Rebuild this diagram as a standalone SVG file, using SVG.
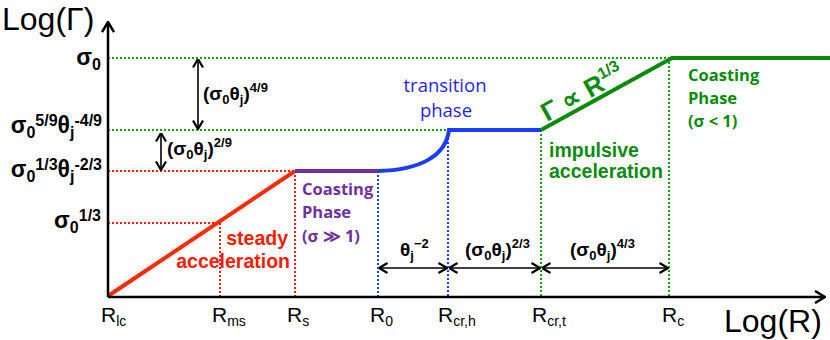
<svg xmlns="http://www.w3.org/2000/svg" width="830" height="340" viewBox="0 0 830 340">
<style>
.ax{stroke:#000;stroke-width:2.5;fill:none}
.dot{stroke-width:2;stroke-dasharray:2 2;fill:none}
.cur{stroke-width:4;fill:none}
.arr{stroke:#000;stroke-width:1.6;fill:none;marker-start:url(#chev);marker-end:url(#chev)}
.big{font-family:"Liberation Sans",Arial,sans-serif;font-size:32px;fill:#000}
.lbl{font-family:"Liberation Sans",Arial,sans-serif;font-weight:bold;font-size:23px;fill:#000}
.sm{font-size:16px}
.al{font-family:"Liberation Sans",Arial,sans-serif;font-weight:bold;font-size:19px;fill:#000}
.als{font-size:13px}
.rl{font-family:"Liberation Sans",Arial,sans-serif;font-size:21px;fill:#000}
.rs{font-size:14px}
.ph{font-family:"Liberation Sans",Arial,sans-serif;font-weight:bold;font-size:19.5px}
.cal{font-family:"Open Sans","Noto Sans",sans-serif;font-weight:bold;font-size:16.5px}
</style>
<defs>
<marker id="chev" viewBox="0 0 10 12" refX="9.5" refY="6" markerWidth="10" markerHeight="12" markerUnits="userSpaceOnUse" orient="auto-start-reverse">
<path d="M1,1 L9.5,6 L1,11" stroke="#000" stroke-width="2.2" fill="none"/>
</marker>
<marker id="ahead" viewBox="0 0 12 14" refX="11" refY="7" markerWidth="12" markerHeight="14" markerUnits="userSpaceOnUse" orient="auto">
<path d="M1,1 L11,7 L1,13" stroke="#000" stroke-width="2.5" fill="none"/>
</marker>
</defs>

<g id="connectors">
<line class="dot" stroke="#11a011" x1="108" y1="58" x2="670" y2="58"/>
<line class="dot" stroke="#11a011" x1="108" y1="130" x2="448" y2="130"/>
<line class="dot" stroke="#ff1a00" x1="108" y1="171" x2="295" y2="171"/>
<line class="dot" stroke="#ff1a00" x1="108" y1="223" x2="220" y2="223"/>
<line class="dot" stroke="#ff1a00" x1="220" y1="223" x2="220" y2="296"/>
<line class="dot" stroke="#ff1a00" x1="295" y1="171" x2="295" y2="296"/>
<line class="dot" stroke="#1a3cff" x1="378" y1="171" x2="378" y2="296"/>
<line class="dot" stroke="#1a3cff" x1="448" y1="130" x2="448" y2="296"/>
<line class="dot" stroke="#11a011" x1="541" y1="130" x2="541" y2="296"/>
<line class="dot" stroke="#11a011" x1="669" y1="58" x2="669" y2="296"/>
<line class="cur" stroke="#ff2a00" x1="108" y1="296" x2="295" y2="171"/>
<line class="cur" stroke="#7030a0" x1="295" y1="171" x2="378" y2="171"/>
<path class="cur" stroke="#1a3cff" d="M378,171 C420,170 446,156 449,130 L541,130"/>
<path class="cur" stroke="#0a8c0a" d="M541,130 L672,58 L830,58"/>
<line class="arr" x1="198" y1="59" x2="198" y2="129"/>
<line class="arr" x1="161" y1="133" x2="161" y2="170"/>
<line class="arr" x1="379" y1="268" x2="447" y2="268"/>
<line class="arr" x1="449" y1="268" x2="540" y2="268"/>
<line class="arr" x1="542" y1="268" x2="668" y2="268"/>
<line class="ax" x1="108" y1="297" x2="108" y2="22" marker-end="url(#ahead)"/>
<line class="ax" x1="108" y1="297" x2="825" y2="297" marker-end="url(#ahead)"/>
</g>

<g id="axis-labels">
<text class="big" x="2" y="30">Log(Γ)</text>
<text class="big" x="724" y="332">Log(R)</text>
</g>

<g id="y-labels">
<text class="lbl" x="101" y="65" text-anchor="end">σ<tspan class="sm" dy="5">0</tspan></text>
<text class="lbl" x="102" y="133" text-anchor="end">σ<tspan class="sm" dy="5">0</tspan><tspan class="sm" dy="-12">5/9</tspan><tspan dy="7">θ</tspan><tspan class="sm" dy="5">j</tspan><tspan class="sm" dy="-12">-4/9</tspan></text>
<text class="lbl" x="102" y="177" text-anchor="end">σ<tspan class="sm" dy="5">0</tspan><tspan class="sm" dy="-12">1/3</tspan><tspan dy="7">θ</tspan><tspan class="sm" dy="5">j</tspan><tspan class="sm" dy="-12">-2/3</tspan></text>
<text class="lbl" x="101" y="228" text-anchor="end">σ<tspan class="sm" dy="5">0</tspan><tspan class="sm" dy="-12">1/3</tspan></text>
</g>

<g id="x-labels">
<text class="rl" x="101" y="322">R<tspan class="rs" dy="4">lc</tspan></text>
<text class="rl" x="212" y="322">R<tspan class="rs" dy="4">ms</tspan></text>
<text class="rl" x="287" y="322">R<tspan class="rs" dy="4">s</tspan></text>
<text class="rl" x="370" y="322">R<tspan class="rs" dy="4">0</tspan></text>
<text class="rl" x="438" y="322">R<tspan class="rs" dy="4">cr,h</tspan></text>
<text class="rl" x="532" y="322">R<tspan class="rs" dy="4">cr,t</tspan></text>
<text class="rl" x="662" y="322">R<tspan class="rs" dy="4">c</tspan></text>
</g>

<g id="interval-labels">
<text class="al" x="203" y="100">(σ<tspan class="als" dy="4">0</tspan><tspan dy="-4">θ</tspan><tspan class="als" dy="4">j</tspan><tspan dy="-4">)</tspan><tspan class="als" dy="-8">4/9</tspan></text>
<text class="al" x="167" y="155">(σ<tspan class="als" dy="4">0</tspan><tspan dy="-4">θ</tspan><tspan class="als" dy="4">j</tspan><tspan dy="-4">)</tspan><tspan class="als" dy="-8">2/9</tspan></text>
<text class="al" x="400" y="256">θ<tspan class="als" dy="4">j</tspan><tspan class="als" dy="-12">−2</tspan></text>
<text class="al" x="465" y="256">(σ<tspan class="als" dy="4">0</tspan><tspan dy="-4">θ</tspan><tspan class="als" dy="4">j</tspan><tspan dy="-4">)</tspan><tspan class="als" dy="-8">2/3</tspan></text>
<text class="al" x="570" y="256">(σ<tspan class="als" dy="4">0</tspan><tspan dy="-4">θ</tspan><tspan class="als" dy="4">j</tspan><tspan dy="-4">)</tspan><tspan class="als" dy="-8">4/3</tspan></text>
</g>

<g id="steady-acceleration">
<text class="ph" fill="#ff1a00" text-anchor="end"><tspan x="288" y="245">steady</tspan><tspan x="290" y="268">acceleration</tspan></text>
</g>

<g id="coasting-phase-1">
<text class="cal" fill="#7030a0"><tspan x="302" y="195">Coasting</tspan><tspan x="302" y="218">Phase</tspan><tspan x="302" y="242">(σ ≫ 1)</tspan></text>
</g>

<g id="transition-phase">
<text font-family="'Open Sans','Noto Sans',sans-serif" font-size="18.5" fill="#1f1fff" text-anchor="middle"><tspan x="445" y="92">transition</tspan><tspan x="446" y="117">phase</tspan></text>
</g>

<g id="impulsive-acceleration">
<text class="ph" fill="#0a8c0a"><tspan x="549" y="157">impulsive</tspan><tspan x="549" y="178">acceleration</tspan></text>
<text class="ph" fill="#0a8c0a" style="font-size:26px" transform="translate(547,122) rotate(-28.8)">Γ ∝ R<tspan style="font-size:16px" dy="-11">1/3</tspan></text>
</g>

<g id="coasting-phase-2">
<text class="cal" fill="#0a8c0a"><tspan x="688" y="81">Coasting</tspan><tspan x="688" y="104">Phase</tspan><tspan x="688" y="127">(σ &lt; 1)</tspan></text>
</g>
</svg>
